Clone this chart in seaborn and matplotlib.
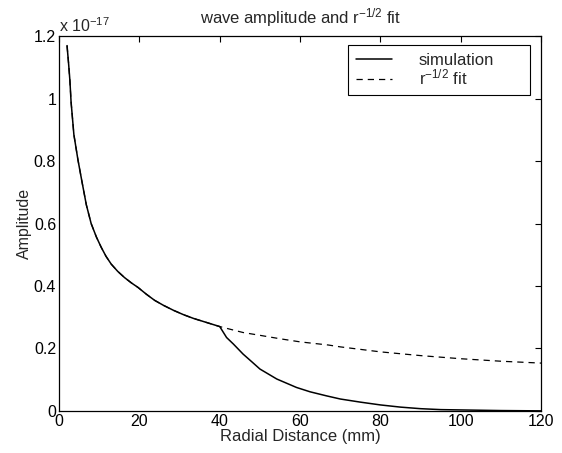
import numpy as np
import pandas as pd
import matplotlib
matplotlib.use("Agg")
import matplotlib.pyplot as plt
import seaborn as sns
from matplotlib.ticker import FuncFormatter

# Simulation amplitude (units of 1e-17) vs radial distance (mm)
sim_x = [2.0, 2.4, 2.7, 3.0, 3.4, 3.7, 4.2, 4.7, 5.2, 5.7, 6.8, 8.0, 9.3, 10.5, 11.7, 13.0,
         14.6, 16.3, 18.0, 19.7, 21.7, 23.8, 26.0, 28.5, 31.0, 33.5, 36.0, 38.0, 40.0,
         41.7, 43.4, 45.8, 48.0, 50.0, 54.2, 59.1, 62.5, 66.6, 70.0, 75.0, 80.0, 85.0,
         90.0, 95.0, 100.0, 110.0, 120.0]
sim_y = [1.17, 1.11, 1.06, 0.99, 0.93, 0.885, 0.845, 0.805, 0.77, 0.735, 0.66, 0.60, 0.557,
         0.524, 0.495, 0.47, 0.447, 0.427, 0.41, 0.395, 0.374, 0.354, 0.338, 0.322, 0.308,
         0.296, 0.286, 0.278, 0.270, 0.235, 0.214, 0.182, 0.157, 0.134, 0.102, 0.075, 0.061,
         0.048, 0.038, 0.028, 0.019, 0.012, 0.007, 0.004, 0.003, 0.001, 0.0]

# r^-1/2 fit
fit_x = [2.0, 2.4, 2.7, 3.0, 3.4, 3.7, 4.2, 4.7, 5.2, 5.7, 6.8, 8.0, 9.3, 10.5, 11.7, 13.0,
         14.6, 16.3, 18.0, 19.7, 21.7, 23.8, 26.0, 28.5, 31.0, 33.5, 36.0, 38.0, 40.0,
         45.8, 50.0, 55.0, 60.0, 67.0, 70.0, 80.0, 90.0, 100.0, 110.0, 120.0]
fit_y = [1.17, 1.11, 1.06, 0.99, 0.93, 0.885, 0.845, 0.805, 0.77, 0.735, 0.66, 0.60, 0.557,
         0.524, 0.495, 0.47, 0.447, 0.427, 0.41, 0.395, 0.374, 0.354, 0.338, 0.322, 0.308,
         0.296, 0.286, 0.278, 0.270, 0.251, 0.242, 0.231, 0.221, 0.211, 0.205, 0.189, 0.177,
         0.167, 0.159, 0.153]

x_ticks = [0, 20, 40, 60, 80, 100, 120]
y_ticks = [0, 0.2, 0.4, 0.6, 0.8, 1.0, 1.2]

sns.set_style("white")
plt.rcParams['font.family'] = ['Liberation Sans', 'DejaVu Sans']
plt.rcParams['mathtext.fontset'] = 'custom'
plt.rcParams['mathtext.rm'] = 'Liberation Sans'
plt.rcParams['mathtext.it'] = 'Liberation Sans'

fig = plt.figure(figsize=(5.62, 4.53), dpi=100)
ax = fig.add_axes([0.105, 0.093, 0.858, 0.827])

sim_df = pd.DataFrame({"x": sim_x, "y": sim_y})
fit_df = pd.DataFrame({"x": fit_x, "y": fit_y})
sns.lineplot(data=fit_df, x="x", y="y", ax=ax, color="black", lw=0.9,
             linestyle=(0, (5, 4)), label=r"r$^{-1/2}$ fit")
sns.lineplot(data=sim_df, x="x", y="y", ax=ax, color="black", lw=1.1,
             label="simulation")

ax.set_xlim(0, 120)
ax.set_ylim(0, 1.2)
ax.set_xticks(x_ticks)
ax.set_yticks(y_ticks)
ax.yaxis.set_major_formatter(FuncFormatter(lambda v, p: f"{v:g}"))
ax.tick_params(direction="in", length=4, width=0.8, labelsize=11.5, top=True, right=True,
               colors="black", pad=2)
for s in ax.spines.values():
    s.set_color("black")
    s.set_linewidth(0.9)

ax.set_xlabel("Radial Distance (mm)", fontsize=12, labelpad=0)
ax.set_ylabel("Amplitude", fontsize=11.5, labelpad=1)
ax.set_title(r"wave amplitude and r$^{-1/2}$ fit", fontsize=12, pad=9)
ax.text(0.0, 1.003, r"x 10$^{-17}$", transform=ax.transAxes, fontsize=11.5,
        ha="left", va="bottom")

handles, labels = ax.get_legend_handles_labels()
order = [labels.index("simulation"), labels.index(r"r$^{-1/2}$ fit")]
leg = ax.legend([handles[i] for i in order], [labels[i] for i in order],
                loc="upper left", bbox_to_anchor=(0.5996, 0.976, 0.3775, 0.0),
                mode="expand", fontsize=12, frameon=True, fancybox=False,
                edgecolor="black", framealpha=1, borderpad=0.45, labelspacing=0.0,
                handlelength=2.2, handletextpad=1.6, borderaxespad=0.0)
leg.get_frame().set_linewidth(0.8)

fig.savefig("out.png", dpi=100)
